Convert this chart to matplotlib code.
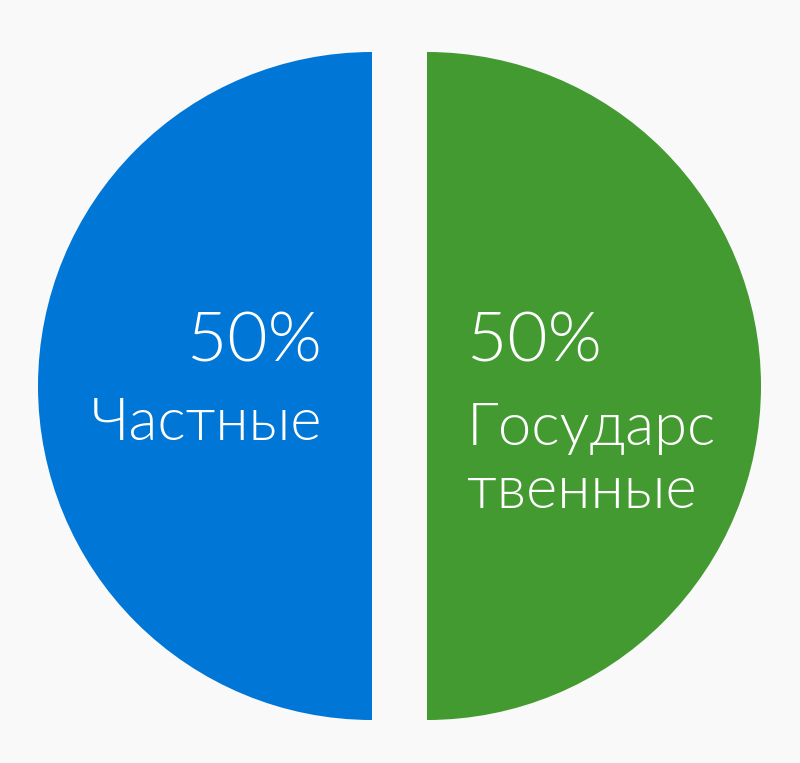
import matplotlib
matplotlib.use("Agg")
import matplotlib.pyplot as plt

categories = ["Частные", "Государс\nтвенные"]
values = [50, 50]
colors = ["#0076d6", "#429a30"]

W, H = 800, 763
fig = plt.figure(figsize=(W / 100, H / 100), dpi=100, facecolor="#f9f9f9")
ax = fig.add_axes([0, 0, 1, 1])

R = 334
cx, cy = 399.5, H - 386
gap = 27.5
ax.pie(values, colors=colors, radius=R, center=(cx, cy),
       startangle=90, counterclock=True,
       explode=[gap, gap], frame=True,
       wedgeprops=dict(linewidth=0))
ax.set_xlim(0, W)
ax.set_ylim(0, H)
ax.set_aspect("equal")
ax.axis("off")

font = ["Lato", "DejaVu Sans"]
tot = sum(values)
pct = [f"{v / tot * 100:.0f}%" for v in values]
kw = dict(color="white", family=font, fontweight=300, va="baseline")

# left label (right aligned)
ax.text(322, H - 362, pct[0], ha="right", fontsize=50, **kw)
ax.text(322, H - 440, categories[0], ha="right", fontsize=43, **kw)
# right label (left aligned)
ax.text(467, H - 362, pct[1], ha="left", fontsize=50, **kw)
for i, line in enumerate(categories[1].split("\n")):
    ax.text(467, H - 445 - 63 * i, line, ha="left", fontsize=43, **kw)

fig.savefig("out.png", dpi=100, facecolor=fig.get_facecolor())
